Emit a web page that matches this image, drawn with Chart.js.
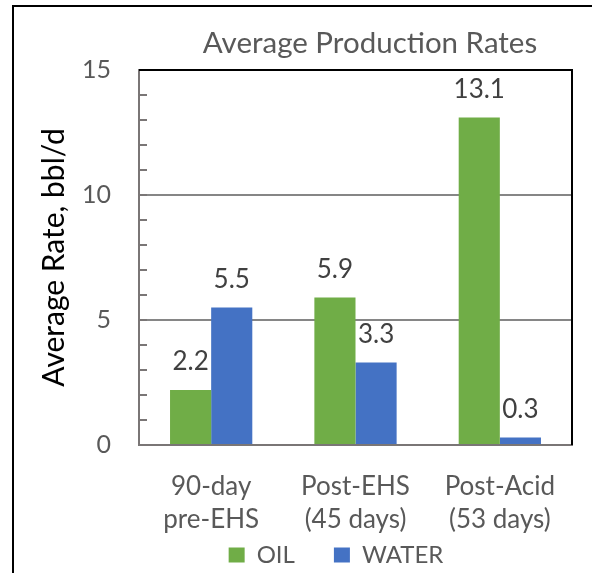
<!DOCTYPE html>
<html>
<head>
<meta charset="utf-8">
<script src="https://cdn.jsdelivr.net/npm/chart.js@4/dist/chart.umd.min.js"></script>
<style>
  html, body { margin: 0; padding: 0; background: #fff; }
  #contenedor { width: 592px; height: 573px; }
</style>
</head>
<body>
<div id="contenedor"><canvas id="grafico" width="592" height="573"></canvas></div>
<script>
// Datos del grafico
const categorias = [['90-day', 'pre-EHS'], ['Post-EHS', '(45 days)'], ['Post-Acid', '(53 days)']];
const aceite = [2.2, 5.9, 13.1];
const agua = [5.5, 3.3, 0.3];
const etiquetasY = [0, 5, 10, 15];

const fuente = 'Lato, "Open Sans", sans-serif';
const grisTexto = '#595959';
const grisEje = '#7a7676';

// Marco exterior y fondo blanco
const marcoExterior = {
    id: 'marcoExterior',
    afterLayout(chart) {
        // Centrar titulo y leyenda como en el original (desplazados a la derecha)
        const t = chart.titleBlock;
        if (t) { t.left = 168; t.right = 572; }
        const l = chart.legend;
        if (l) {
            const w = l.right - l.left;
            const h = l.bottom - l.top;
            l.left = 336 - w / 2;
            l.right = 336 + w / 2;
            l.top = 504;
            l.bottom = 504 + h;
        }
    },
    beforeDraw(chart) {
        const ctx = chart.ctx;
        ctx.save();
        ctx.fillStyle = '#fff';
        ctx.fillRect(0, 0, chart.width, chart.height);
        ctx.strokeStyle = '#000';
        ctx.lineWidth = 2;
        ctx.beginPath();
        ctx.moveTo(13, chart.height + 5);
        ctx.lineTo(13, 6);
        ctx.lineTo(chart.width + 5, 6);
        ctx.stroke();
        ctx.restore();
    }
};

// Borde superior/derecho del area y marcas menores del eje Y
const bordeArea = {
    id: 'bordeArea',
    afterDraw(chart) {
        const ctx = chart.ctx;
        const a = chart.chartArea;
        const y = chart.scales.y;
        ctx.save();
        ctx.strokeStyle = '#000';
        ctx.lineWidth = 2;
        ctx.beginPath();
        ctx.moveTo(a.left, a.top);
        ctx.lineTo(a.right, a.top);
        ctx.lineTo(a.right, a.bottom);
        ctx.stroke();
        ctx.strokeStyle = grisEje;
        ctx.lineWidth = 2;
        for (let v = 1; v < 15; v++) {
            const py = Math.round(y.getPixelForValue(v));
            ctx.beginPath();
            ctx.moveTo(a.left, py);
            ctx.lineTo(a.left + 8, py);
            ctx.stroke();
        }
        ctx.restore();
    }
};

// Etiquetas de valor encima de cada barra
const etiquetasBarras = {
    id: 'etiquetasBarras',
    afterDatasetsDraw(chart) {
        const ctx = chart.ctx;
        ctx.save();
        ctx.fillStyle = '#404040';
        ctx.font = '26px ' + fuente;
        ctx.textAlign = 'center';
        ctx.textBaseline = 'middle';
        chart.data.datasets.forEach((ds, i) => {
            chart.getDatasetMeta(i).data.forEach((bar, j) => {
                ctx.fillText(ds.data[j].toFixed(1), bar.x, bar.y - 28);
            });
        });
        ctx.restore();
    }
};

new Chart(document.getElementById('grafico'), {
    type: 'bar',
    data: {
        labels: categorias,
        datasets: [
            { label: 'OIL', data: aceite, backgroundColor: '#70ad47', categoryPercentage: 0.57, barPercentage: 1 },
            { label: 'WATER', data: agua, backgroundColor: '#4472c4', categoryPercentage: 0.57, barPercentage: 1 }
        ]
    },
    options: {
        responsive: false,
        animation: false,
        layout: { padding: { left: 0, right: 20, top: 0, bottom: -37 } },
        plugins: {
            title: {
                display: true,
                text: 'Average Production Rates',
                color: grisTexto,
                font: { family: fuente, size: 29.5, weight: 'normal', lineHeight: 1.2 },
                padding: { top: 26, bottom: 8.6 },
                align: 'center'
            },
            legend: {
                position: 'bottom',
                labels: {
                    color: grisTexto,
                    font: { family: fuente, size: 24 },
                    boxWidth: 16,
                    boxHeight: 15,
                    padding: 39
                }
            },
            tooltip: { enabled: false }
        },
        scales: {
            x: {
                afterFit(scale) { scale.height = 92; },
                grid: { display: false },
                border: { color: grisEje, width: 2 },
                ticks: {
                    color: grisTexto,
                    font: { family: fuente, size: 26, lineHeight: 1.27 },
                    padding: 17,
                    maxRotation: 0
                }
            },
            y: {
                min: 0,
                max: 15,
                afterFit(scale) { scale.width = 139; },
                border: { color: grisEje, width: 2 },
                grid: {
                    drawTicks: false,
                    lineWidth: 2,
                    color: c => (c.tick && (c.tick.value === 5 || c.tick.value === 10)) ? '#868686' : 'rgba(0,0,0,0)'
                },
                ticks: {
                    stepSize: 1,
                    autoSkip: false,
                    color: grisTexto,
                    font: { family: fuente, size: 25 },
                    padding: 28,
                    callback: v => etiquetasY.includes(v) ? String(v) : ''
                },
                title: {
                    display: true,
                    text: 'Average Rate, bbl/d',
                    color: '#000',
                    font: { family: fuente, size: 30, lineHeight: 1.2 },
                    padding: { top: 36, bottom: 0 }
                }
            }
        }
    },
    plugins: [marcoExterior, bordeArea, etiquetasBarras]
});
</script>
</body>
</html>
